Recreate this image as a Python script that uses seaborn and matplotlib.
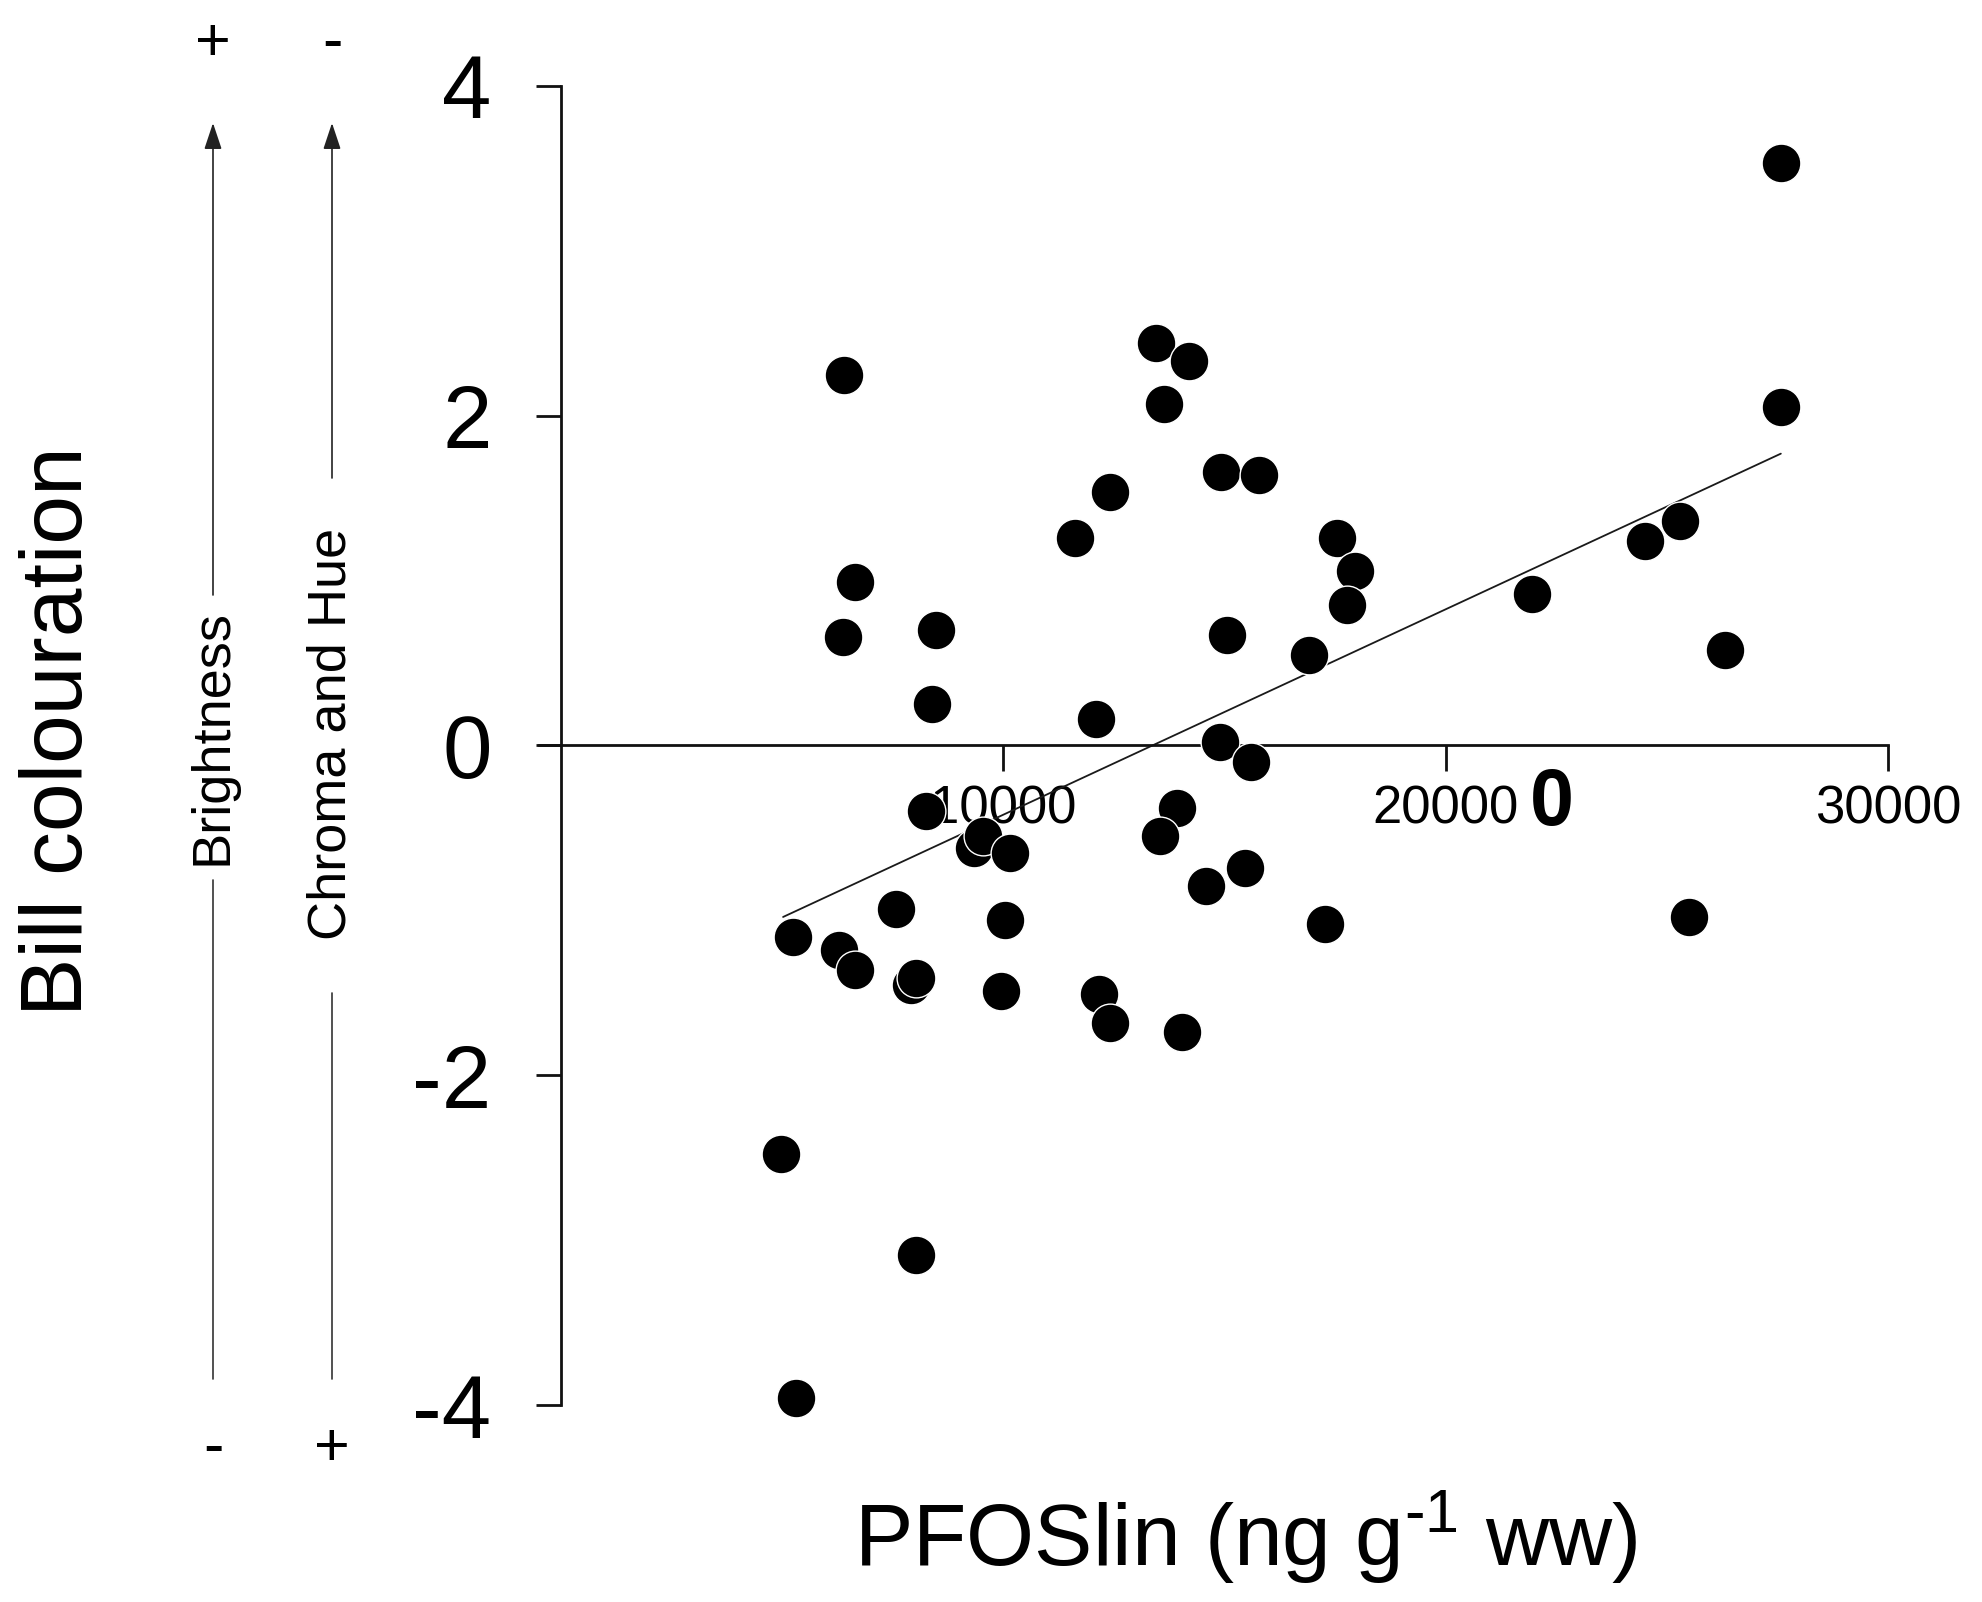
import numpy as np
import pandas as pd
import matplotlib
matplotlib.use('Agg')
import matplotlib.pyplot as plt
from matplotlib.lines import Line2D
import seaborn as sns

# values
pfos = [6395, 6652, 6366, 8484, 8398, 8255, 9342, 9542, 10143, 10029,
        9943, 7568, 7911, 8026, 6280, 6652, 5250, 4964, 8026, 5308,
        11631, 12403, 12089, 12175, 12403, 13462, 14206, 13634, 14921, 15780,
        15064, 14893, 15608, 13920, 13548, 14578, 15465, 14034, 17554, 17954,
        17783, 16924, 17268, 21960, 24506, 25308, 26309, 25508, 27582, 27582]
bill = [2.25, 0.99, 0.66, 0.70, 0.25, -0.40, -0.62, -0.55, -0.65, -1.06,
        -1.49, -0.99, -1.45, -1.41, -1.24, -1.36, -1.16, -2.48, -3.09, -3.96,
        1.26, 1.54, 0.16, -1.51, -1.68, 2.44, 2.33, 2.07, 1.66, 1.64,
        0.67, 0.02, -0.10, -0.38, -0.55, -0.85, -0.74, -1.74, 1.26, 1.06,
        0.85, 0.55, -1.08, 0.92, 1.24, 1.36, 0.58, -1.04, 3.53, 2.05]

# fitted line end points
fit_x = [5021, 27582]
fit_y = [-1.04, 1.77]

x_ticks = [10000, 20000, 30000]
y_ticks = [-4, -2, 0, 2, 4]

df = pd.DataFrame({'pfos': pfos, 'bill': bill})
fit = pd.DataFrame({'x': fit_x, 'y': fit_y})

sns.set_style('white')
plt.rcParams['font.family'] = ['Liberation Sans', 'DejaVu Sans']
plt.rcParams['mathtext.fontset'] = 'custom'
plt.rcParams['mathtext.rm'] = 'Liberation Sans'
for k in ['text.color', 'axes.labelcolor', 'xtick.color', 'ytick.color']:
    plt.rcParams[k] = 'black'

W, H = 1983, 1602
fig = plt.figure(figsize=(W / 100, H / 100), dpi=100)
fig.patch.set_facecolor('white')


def fx(x):
    return x / W


def fy(y):
    return 1 - y / H


ax = fig.add_axes([516.8 / W, (H - 1454.5) / H, 1415.2 / W, 1418 / H])
ax.set_facecolor('white')

sns.scatterplot(data=df, x='pfos', y='bill', ax=ax, s=780, color='black',
                edgecolor='white', linewidth=1.0, zorder=3)
sns.lineplot(data=fit, x='x', y='y', ax=ax, color='#1a1a1a', linewidth=1.3,
             zorder=2)

ax.set_xlim(-1000, 31000)
ax.set_ylim(-4.3, 4.3)

for s in ['top', 'right']:
    ax.spines[s].set_visible(False)
ax.spines['left'].set_position(('data', 0))
ax.spines['left'].set_bounds(-4, 4)
ax.spines['bottom'].set_position(('data', 0))
ax.spines['bottom'].set_bounds(-500, 30000)
for s in ['left', 'bottom']:
    ax.spines[s].set_linewidth(2.0)
    ax.spines[s].set_color('#111111')

ax.set_xticks(x_ticks)
ax.set_xticklabels([str(t) for t in x_ticks])
ax.set_yticks(y_ticks)
ax.set_yticklabels([str(t) for t in y_ticks])
ax.tick_params(axis='x', direction='out', length=19, width=2.0, color='#111111',
               labelsize=38, pad=9, bottom=True)
ax.tick_params(axis='y', direction='out', length=18, width=2.0, color='#111111',
               labelsize=64, pad=32, left=True)
ax.set_xlabel('')
ax.set_ylabel('')

# left side labels and arrows
fig.text(fx(60), fy(731), 'Bill colouration', rotation=90, fontsize=63,
         ha='center', va='center')

for xp, label, y_mid, top_end, bot_start, top_sign, bot_sign in [
        (213, 'Brightness', 737, 595, 880, '+', '-'),
        (332, 'Chroma and Hue', 734, 478, 993, '-', '+')]:
    fig.text(fx(xp), fy(y_mid), label, rotation=90, fontsize=39,
             ha='center', va='center')
    ax.annotate('', xy=(fx(xp), fy(123)), xytext=(fx(xp), fy(top_end)),
                xycoords='figure fraction', textcoords='figure fraction',
                arrowprops=dict(arrowstyle='-|>,head_length=0.6,head_width=0.2',
                                mutation_scale=27, lw=1.2, color='#222222',
                                shrinkA=0, shrinkB=0))
    fig.add_artist(Line2D([fx(xp), fx(xp)], [fy(bot_start), fy(1379)],
                          transform=fig.transFigure, lw=1.2, color='#333333'))
    fig.text(fx(xp), fy(60), top_sign, fontsize=44, ha='center', va='baseline')
    fig.text(fx(xp), fy(1465), bot_sign, fontsize=44, ha='center', va='baseline')

fig.text(fx(1246), fy(1538), 'PFOSlin (ng g$\\mathregular{^{\u20101}}$ ww)',
         fontsize=63, ha='center', va='center')

fig.text(fx(1552), fy(804), '0', fontsize=57, fontweight='bold',
         family=['Liberation Sans Narrow', 'Liberation Sans'],
         ha='center', va='center')

fig.savefig('out.png', dpi=100, facecolor='white')
